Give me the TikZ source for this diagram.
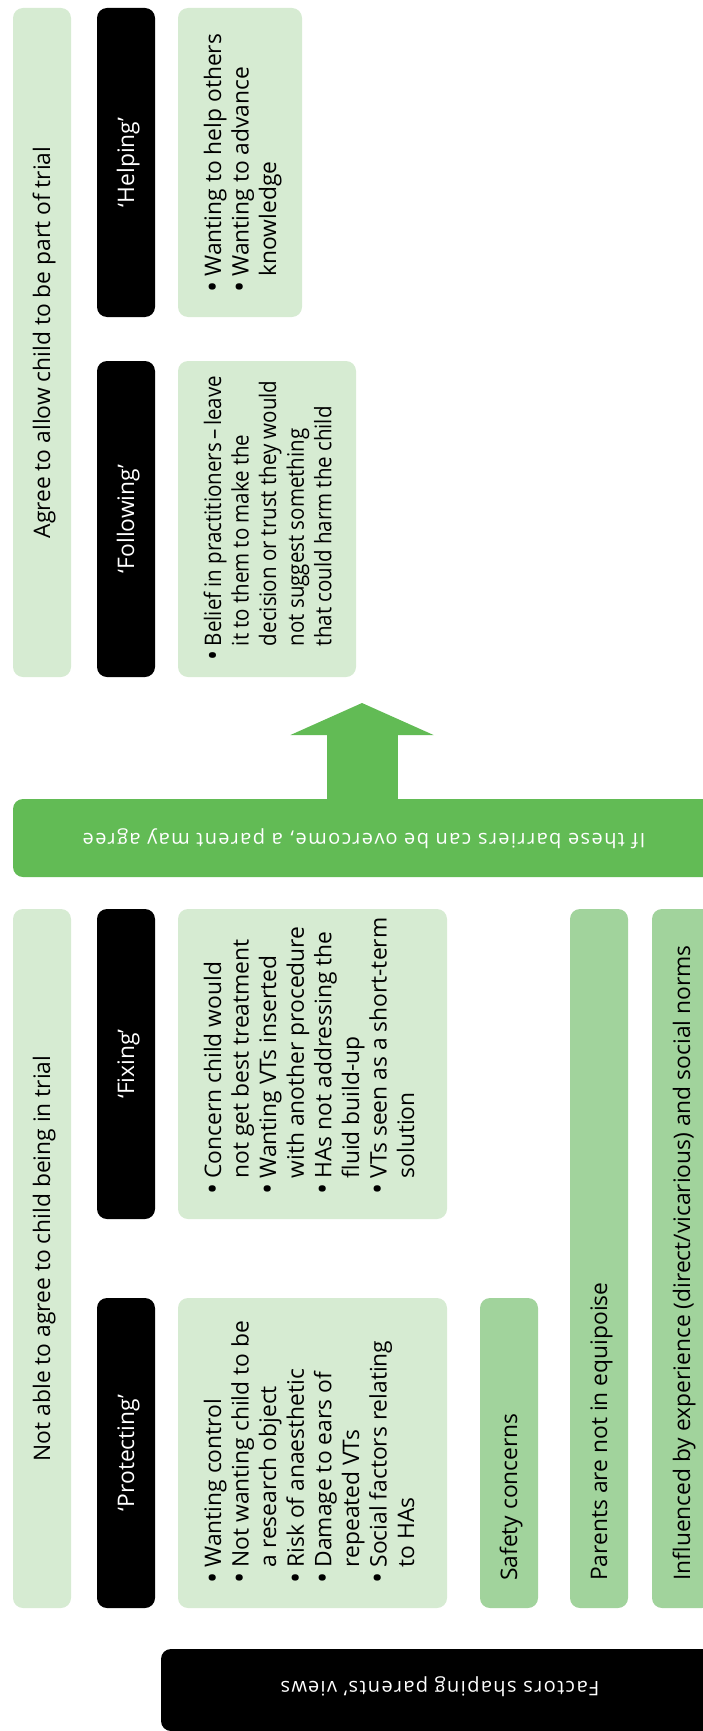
\documentclass[tikz,border=0pt]{standalone}
\usepackage{fontspec}
\setmainfont{Open Sans}
\newfontfamily\trackfont[LetterSpace=7]{Open Sans}
\usetikzlibrary{arrows.meta}

\definecolor{paleg}{HTML}{D6EBD2}
\definecolor{midg}{HTML}{A1D39C}
\definecolor{brightg}{HTML}{62BB55}

% bullet and hanging indent for the list panels
\newcommand{\bul}{\makebox[0.72em][l]{\raisebox{-0.1em}{\scalebox{1.3}{\textbullet}}}}
\newcommand{\ind}{\hspace*{0.72em}}

\tikzset{
  panel/.style={rectangle, rounded corners=10pt, inner sep=0pt, outer sep=0pt, draw=none},
  pale/.style={panel, fill=paleg},
  mid/.style={panel, fill=midg},
  dark/.style={panel, fill=black},
  bar/.style={panel, fill=brightg},
  vtext/.style={rotate=90, inner sep=0pt, font=\fontsize{22.8}{27.6}\selectfont},
  wtext/.style={vtext, text=white},
  ftext/.style={rotate=180, inner sep=0pt, anchor=base, font=\trackfont\fontsize{20}{24}\selectfont},
  fwtext/.style={ftext, text=white},
}

\begin{document}
\begin{tikzpicture}[x=1pt, y=-1pt]
\useasboundingbox (0,0) rectangle (703,1731);
\clip (0,0) rectangle (703,1731);

% ---- upper half: agreeing ----
\node[pale, minimum width=58pt, minimum height=669pt] (agree) at (42,342.5) {};
\node[vtext, anchor=base] (agreeT) at (50,342.5) {Agree to allow child to be part of trial};

\node[dark, minimum width=58pt, minimum height=309pt] (help) at (126,162.5) {};
\node[wtext, anchor=base] (helpT) at (134,162.5) {‘Helping’};
\node[dark, minimum width=58pt, minimum height=316pt] (follow) at (126,519) {};
\node[wtext, anchor=base] (followT) at (134,519) {‘Following’};

\node[pale, minimum width=124pt, minimum height=309pt] (helpbox) at (240,162.5) {};
\node[vtext, anchor=base west] (helpboxT) at (221,293)
  {\parbox[t]{400pt}{\raggedright
    \bul Wanting to help others\\
    \bul Wanting to advance\\
    \ind knowledge}};

% this panel is set a little tighter so its long lines fit
\node[pale, minimum width=178pt, minimum height=316pt] (followbox) at (267,519) {};
\node[vtext, anchor=base west] (followboxT) at (221,661)
  {\scalebox{0.9}[1]{\parbox[t]{400pt}{\raggedright\spaceskip=0.25em
    \bul Belief in practitioners\,--\,leave\\
    \ind it to them to make the\\
    \ind decision or trust they would\\
    \ind not suggest something\\
    \ind that could harm the child}}};

% ---- banner and arrow ----
\node[bar, minimum width=702pt, minimum height=78pt] (banner) at (364,838) {};
\node[fwtext] (bannerT) at (364,833) {If these barriers can be overcome, a parent may agree};
\coordinate (tip) at (362,703);
\draw[brightg, line width=71pt, -{Triangle[width=142pt,length=32pt]}] (banner.north -| tip) -- (tip);

% ---- lower half: not agreeing ----
\node[pale, minimum width=58pt, minimum height=699pt] (notable) at (42,1258.5) {};
\node[vtext, anchor=base] (notableT) at (50,1258.5) {Not able to agree to child being in trial};

\node[dark, minimum width=58pt, minimum height=310pt] (fix) at (126,1064) {};
\node[wtext, anchor=base] (fixT) at (134,1064) {‘Fixing’};
\node[dark, minimum width=58pt, minimum height=310pt] (protect) at (126,1453) {};
\node[wtext, anchor=base] (protectT) at (134,1453) {‘Protecting’};

\node[pale, minimum width=269pt, minimum height=310pt] (fixbox) at (312.5,1064) {};
\node[vtext, anchor=base west] (fixboxT) at (221,1195)
  {\parbox[t]{400pt}{\raggedright
    \bul Concern child would\\
    \ind not get best treatment\\
    \bul Wanting VTs inserted\\
    \ind with another procedure\\
    \bul HAs not addressing the\\
    \ind fluid build-up\\
    \bul VTs seen as a short-term\\
    \ind solution}};

\node[pale, minimum width=269pt, minimum height=310pt] (protectbox) at (312.5,1453) {};
\node[vtext, anchor=base west] (protectboxT) at (221,1584)
  {\parbox[t]{400pt}{\raggedright
    \bul Wanting control\\
    \bul Not wanting child to be\\
    \ind a research object\\
    \bul Risk of anaesthetic\\
    \bul Damage to ears of\\
    \ind repeated VTs\\
    \bul Social factors relating\\
    \ind to HAs}};

\node[mid, minimum width=58pt, minimum height=310pt] (safety) at (509,1453) {};
\node[vtext, anchor=base west] (safetyT) at (517,1581) {Safety concerns};

\node[mid, minimum width=58pt, minimum height=699pt] (equip) at (599,1258.5) {};
\node[vtext, anchor=base west] (equipT) at (607,1581) {Parents are not in equipoise};

\node[mid, minimum width=60pt, minimum height=699pt] (infl) at (682,1258.5) {};
\node[vtext, anchor=base west] (inflT) at (690,1581) {Influenced by experience (direct/vicarious) and social norms};

% ---- footer ----
\node[dark, minimum width=559pt, minimum height=82pt] (factors) at (440.5,1690) {};
\node[fwtext] (factorsT) at (440,1681) {Factors shaping parents’ views};
\end{tikzpicture}
\end{document}
